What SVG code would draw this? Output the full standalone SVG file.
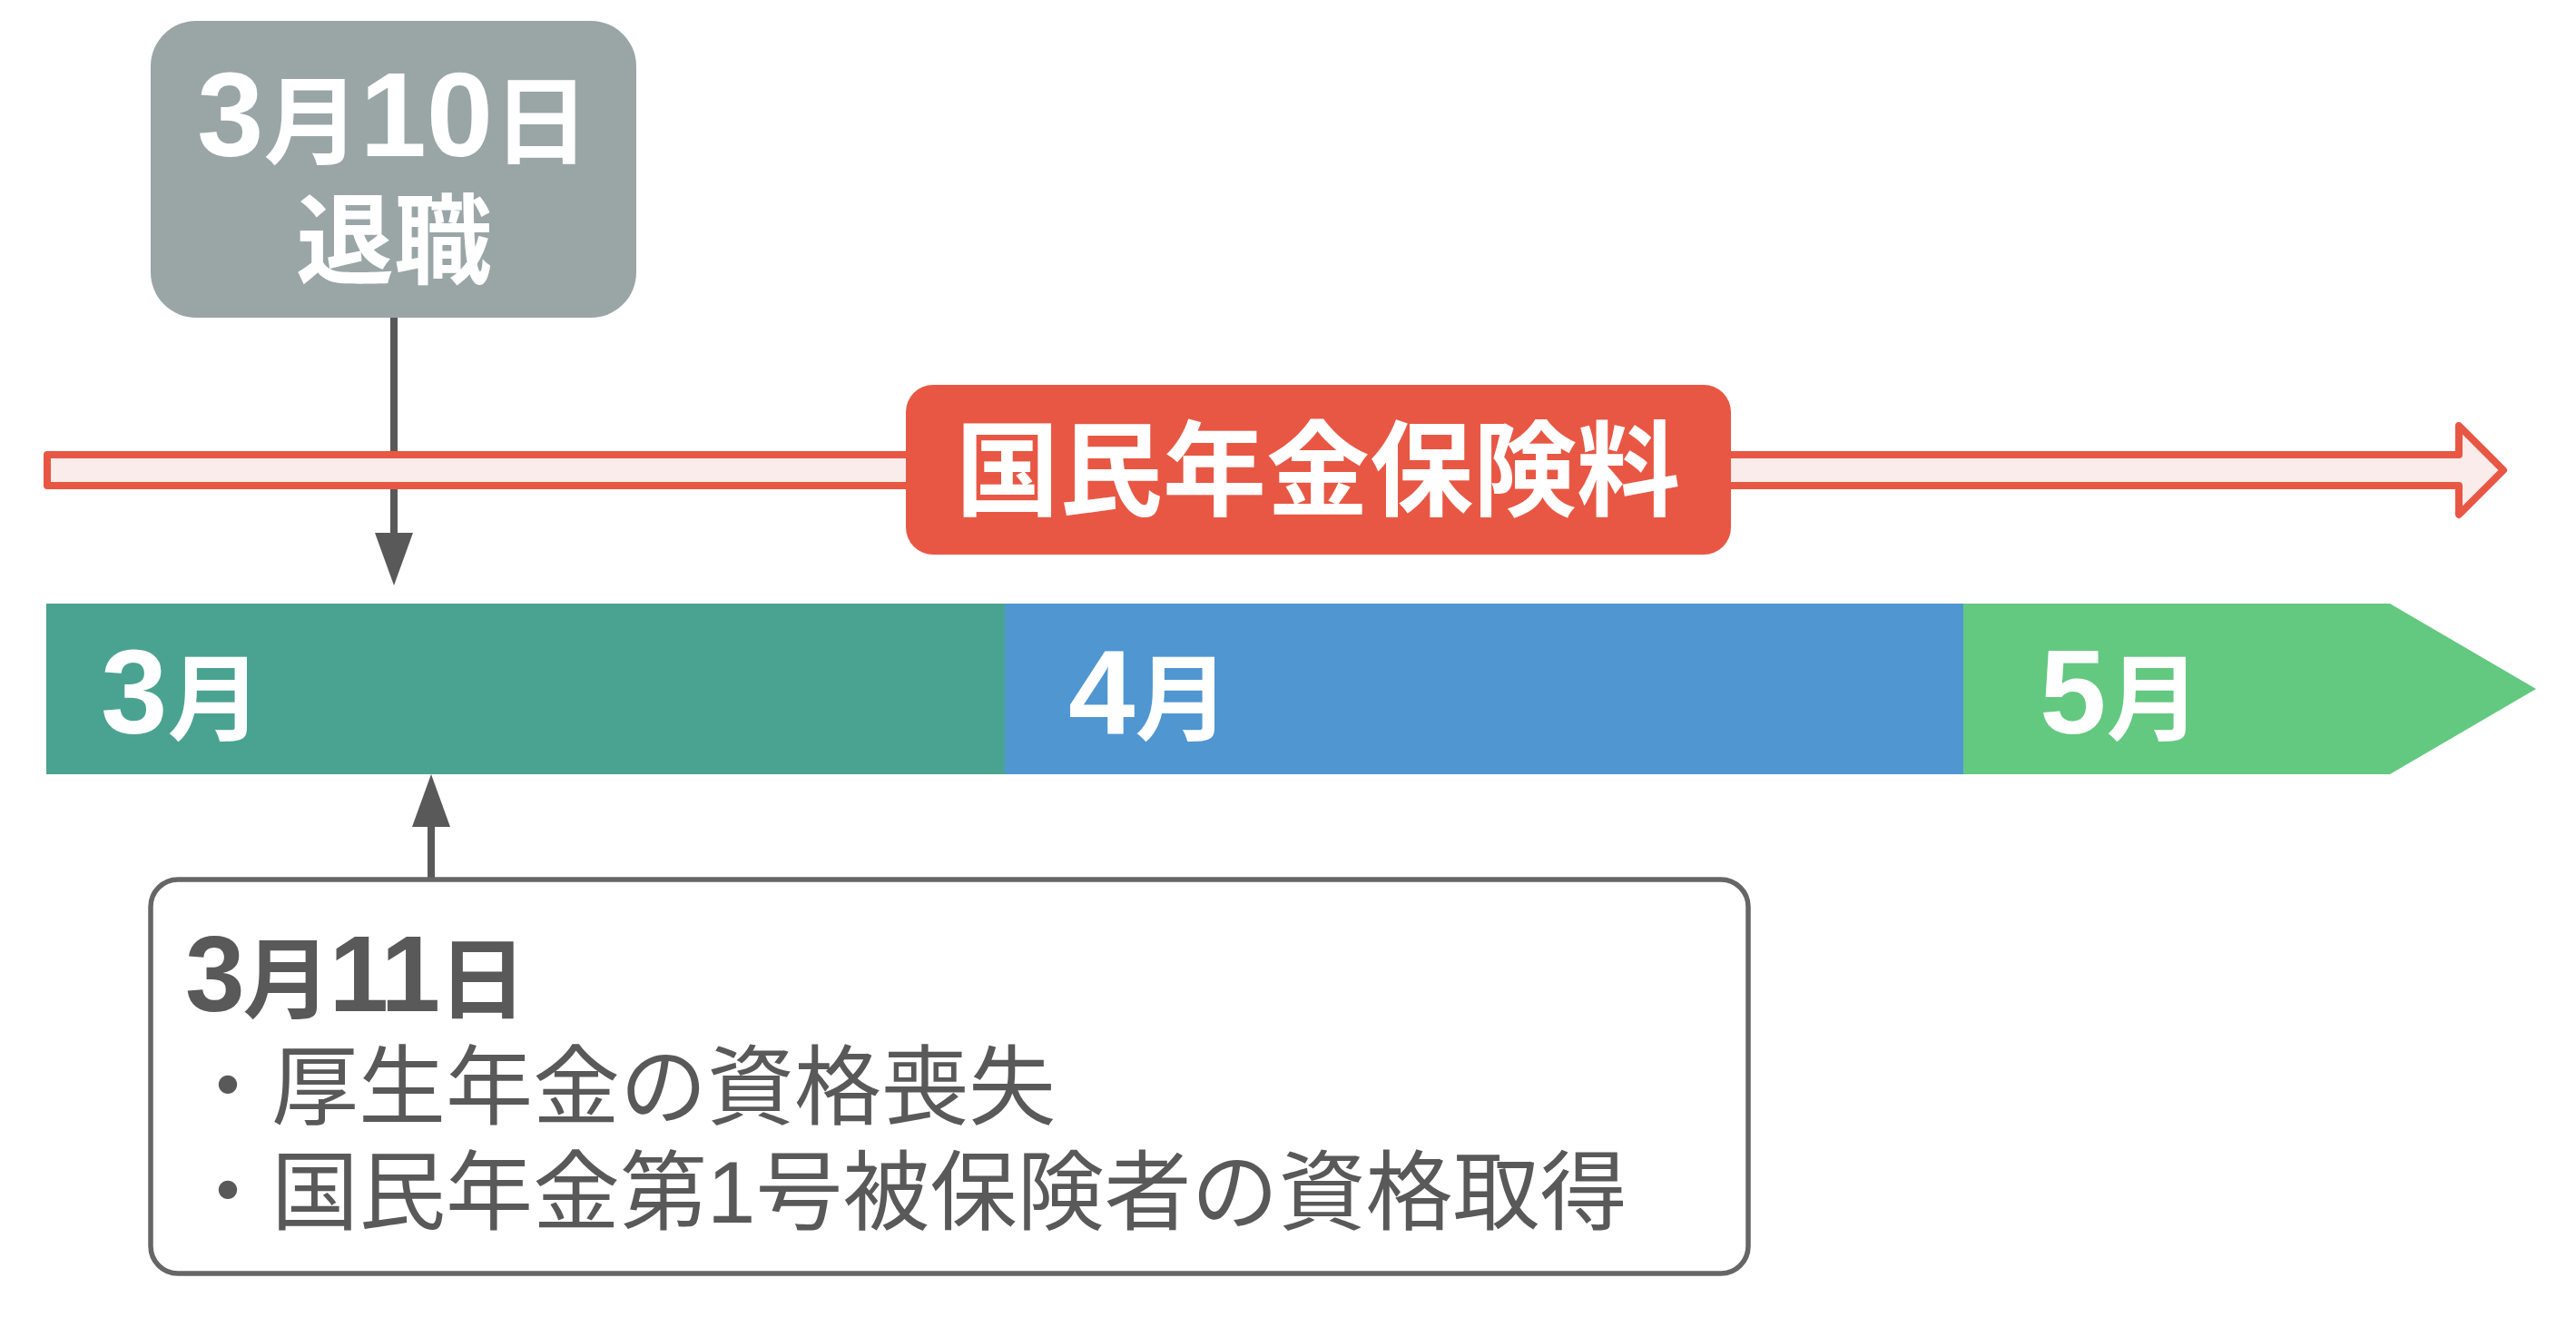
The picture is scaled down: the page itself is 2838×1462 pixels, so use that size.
<svg xmlns="http://www.w3.org/2000/svg" width="2838" height="1462" viewBox="0 0 2838 1462">
<style>
.t{font-family:"Liberation Sans","Noto Sans CJK JP",sans-serif}
.b{font-weight:700}
.w{fill:#ffffff}
.d{fill:#595959}
.cj{font-family:"Noto Sans CJK JP",sans-serif}
.conn{stroke:#595959;stroke-width:8;fill:none}
</style>
<defs>
<marker id="ah" markerUnits="userSpaceOnUse" markerWidth="58" markerHeight="42" viewBox="0 0 58 42" refX="0" refY="21" orient="auto">
<path d="M0,0 L58,21 L0,42 Z" fill="#595959"/>
</marker>
</defs>
<rect width="2838" height="1462" fill="#ffffff"/>

<g id="connectors">
<line class="conn" x1="434" y1="350" x2="434" y2="587" marker-end="url(#ah)"/>
<line class="conn" x1="475" y1="967" x2="475" y2="911" marker-end="url(#ah)"/>
</g>

<g id="premium-arrow">
<path d="M52,501 L2709,501 L2709,469 L2758,518 L2709,567 L2709,535 L52,535 Z" fill="#f9eceb" stroke="#e85744" stroke-width="8" stroke-linejoin="round"/>
</g>

<g id="retire">
<rect x="166" y="23" width="535" height="327" rx="50" fill="#9aa5a6"/>
<text class="t b w" x="217" y="172"><tspan font-size="132">3</tspan><tspan class="cj" font-size="106">月</tspan><tspan font-size="132">10</tspan><tspan class="cj" font-size="106">日</tspan></text>
<text class="t b w cj" x="434" y="304" font-size="108" text-anchor="middle">退職</text>
</g>

<g id="premium-label">
<rect x="998" y="424" width="909" height="187" rx="30" fill="#e85744"/>
<text class="t b w cj" x="1452" y="559" font-size="114" text-anchor="middle">国民年金保険料</text>
</g>

<g id="month-3">
<rect x="51" y="665" width="1056" height="188" fill="#4aa391"/>
<text class="t b w" x="111" y="808"><tspan font-size="132">3</tspan><tspan class="cj" font-size="104">月</tspan></text>
</g>
<g id="month-4">
<rect x="1107" y="665" width="1056" height="188" fill="#5096d1"/>
<text class="t b w" x="1177" y="808"><tspan font-size="132">4</tspan><tspan class="cj" font-size="104">月</tspan></text>
</g>
<g id="month-5">
<path d="M2163,665 L2633,665 L2794,759 L2633,853 L2163,853 Z" fill="#63c880"/>
<text class="t b w" x="2247" y="808"><tspan font-size="132">5</tspan><tspan class="cj" font-size="104">月</tspan></text>
</g>

<g id="change">
<rect x="166" y="969" width="1760" height="434" rx="30" fill="#ffffff" stroke="#666666" stroke-width="5.5"/>
<text class="t b d" x="204" y="1114" textLength="376" lengthAdjust="spacing"><tspan font-size="118">3</tspan><tspan class="cj" font-size="97">月</tspan><tspan font-size="118">11</tspan><tspan class="cj" font-size="97">日</tspan></text>
<text class="t d" x="203" y="1231" font-size="96">・厚生年金の資格喪失</text>
<text class="t d" x="203" y="1347" font-size="96">・国民年金第1号被保険者の資格取得</text>
</g>
</svg>
